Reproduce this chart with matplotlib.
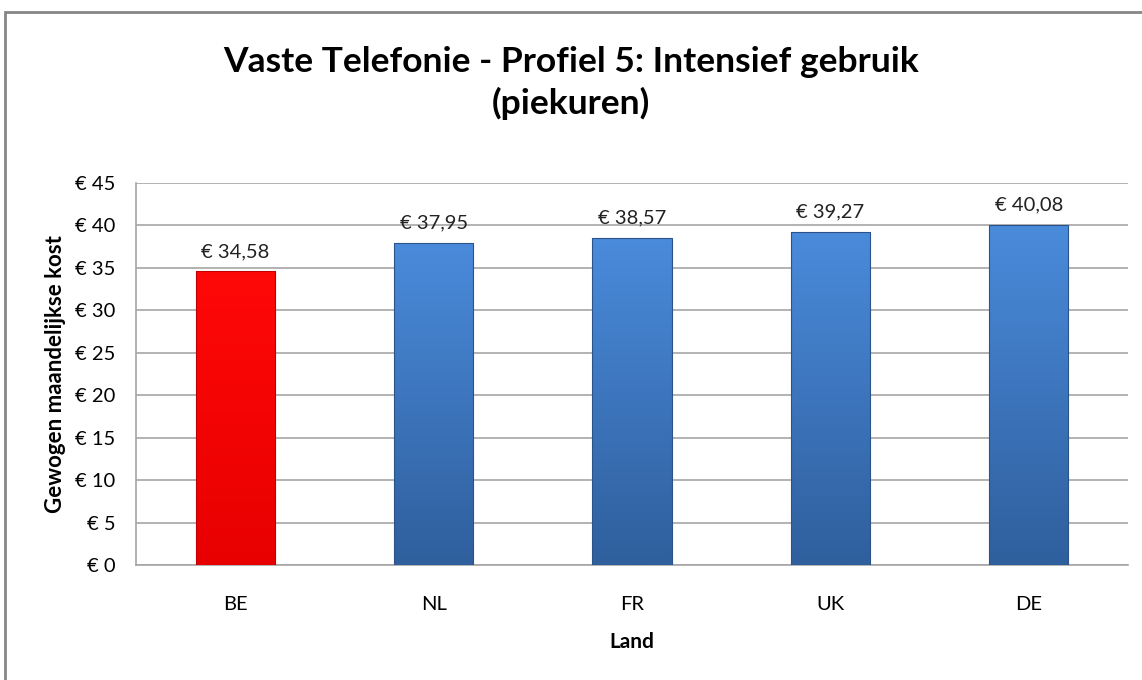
import matplotlib.pyplot as plt
import numpy as np
from matplotlib.patches import Rectangle
from matplotlib.colors import LinearSegmentedColormap

landen = ['BE', 'NL', 'FR', 'UK', 'DE']
kosten = [34.58, 37.95, 38.57, 39.27, 40.08]
labels = ['€ 34,58', '€ 37,95', '€ 38,57', '€ 39,27', '€ 40,08']
y_ticks = [0, 5, 10, 15, 20, 25, 30, 35, 40, 45]

plt.rcParams['font.family'] = ['Lato', 'DejaVu Sans']

fig = plt.figure(figsize=(11.42, 6.8), dpi=100)
ax = fig.add_axes([136 / 1142, 1 - 565 / 680, (1128 - 136) / 1142, (565 - 183) / 680])

# outer chart border (only left and top are visible)
fig.patches.append(Rectangle((5 / 1142, -0.05), 1.2, 1 - 12 / 680 + 0.05,
                             transform=fig.transFigure, fill=False,
                             edgecolor='#868686', linewidth=2))

x = np.arange(len(landen))
bars = ax.bar(x, kosten, width=0.4, color='none', edgecolor='none', zorder=3)

red_cm = LinearSegmentedColormap.from_list('r', ['#e80000', '#ff0808'])
blue_cm = LinearSegmentedColormap.from_list('b', ['#2f5f9d', '#4a8bdb'])
grad = np.linspace(0, 1, 256).reshape(-1, 1)
for i, b in enumerate(bars):
    cm = red_cm if landen[i] == 'BE' else blue_cm
    bx, by = b.get_x(), b.get_y()
    w, h = b.get_width(), b.get_height()
    im = ax.imshow(grad, cmap=cm, origin='lower', aspect='auto',
                   extent=(bx, bx + w, by, by + h), zorder=3)
    im.set_clip_path(b)
    edge = '#c00000' if landen[i] == 'BE' else '#2a5489'
    ax.add_patch(Rectangle((bx, by), w, h, fill=False, edgecolor=edge,
                           linewidth=0.8, zorder=4))
    ax.annotate(labels[i], (b.get_x() + w / 2, h), xytext=(0, 8),
                textcoords='offset points', ha='center', va='bottom',
                fontsize=14.5, color='#222222')

ax.set_xlim(-0.5, len(landen) - 0.5)
ax.set_ylim(0, 45)
ax.set_yticks(y_ticks)
ax.set_yticklabels(['€ %d' % v for v in y_ticks], fontsize=14.5)
ax.set_xticks(x)
ax.set_xticklabels(landen, fontsize=14.5)
ax.tick_params(axis='both', length=0)
ax.tick_params(axis='y', pad=15)
ax.tick_params(axis='x', pad=22)
ax.yaxis.grid(True, color='#a6a6a6', linewidth=1.2, zorder=0)
ax.set_axisbelow(True)
for s in ['top', 'right']:
    ax.spines[s].set_visible(False)
for s in ['left', 'bottom']:
    ax.spines[s].set_color('#a6a6a6')
    ax.spines[s].set_linewidth(1.2)

ax.set_ylabel('Gewogen maandelijkse kost', fontsize=16, fontweight='bold', labelpad=6)
ax.set_xlabel('Land', fontsize=15, fontweight='bold', labelpad=14)

fig.text(0.5, 1 - 83 / 680, 'Vaste Telefonie - Profiel 5: Intensief gebruik\n(piekuren)',
         ha='center', va='center', fontsize=25.5, fontweight='bold', linespacing=1.3)

fig.savefig('out.png', dpi=100, facecolor='white')
